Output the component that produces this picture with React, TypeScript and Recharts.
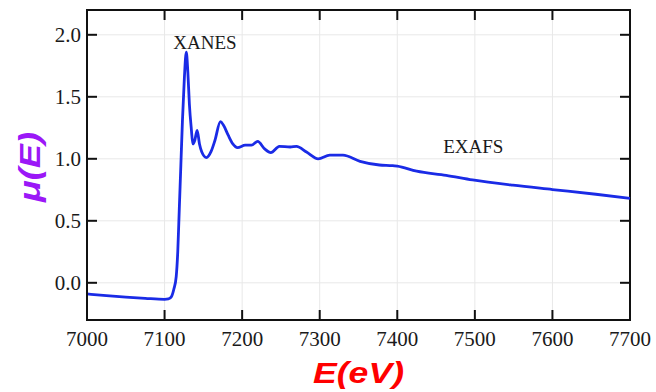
import { CartesianGrid, Line, LineChart, ReferenceArea, ReferenceDot, XAxis, YAxis } from 'recharts';

const energy = [
  7000, 7025, 7050, 7075, 7100, 7105, 7109, 7112, 7115, 7117, 7119, 7121, 7123, 7125.5, 7128,
  7130, 7132, 7134.5, 7136.5, 7139, 7142, 7145, 7148, 7154, 7160, 7165, 7172, 7176, 7182, 7188,
  7194, 7204, 7212, 7220, 7229, 7237, 7248, 7262, 7270, 7283, 7298, 7313, 7330, 7352, 7377,
  7394, 7400, 7425, 7463, 7497, 7549, 7600, 7656, 7700,
];
const mu = [
  -0.09, -0.103, -0.115, -0.125, -0.133, -0.13, -0.11, -0.05, 0.05, 0.25, 0.6, 0.95, 1.3, 1.65, 1.86,
  1.7, 1.44, 1.24, 1.12, 1.15, 1.23, 1.12, 1.055, 1.01, 1.06, 1.15, 1.3, 1.27, 1.19, 1.12,
  1.09, 1.11, 1.11, 1.14, 1.08, 1.05, 1.1, 1.095, 1.1, 1.055, 1.0, 1.03, 1.03, 0.98, 0.95,
  0.945, 0.94, 0.9, 0.867, 0.83, 0.787, 0.752, 0.714, 0.68,
];
const xTicks = [7000, 7100, 7200, 7300, 7400, 7500, 7600, 7700];
const yTicks = [0, 0.5, 1, 1.5, 2];
const xDomain = [7000, 7700];
const yDomain = [-0.3, 2.2];
const annotations = [
  { e: 7152, v: 1.94, text: 'XANES' },
  { e: 7498, v: 1.1, text: 'EXAFS' },
];

const data = energy.map((e, i) => ({ e, mu: mu[i] }));

const W = 656;
const H = 392;
const M = { top: 10, right: 26, left: 27, bottom: 32 };
const X_AXIS_H = 40;
const Y_AXIS_W = 60;
const PLOT_W = W - M.left - M.right - Y_AXIS_W;
const PLOT_H = H - M.top - M.bottom - X_AXIS_H;

const SERIF = 'Liberation Serif';
const SANS = 'Liberation Sans';
const INK = '#111';
const TICK_IN = 10;
const GAP = 8;

// ticks point inwards on all four sides, labels only bottom / left
const bottomTick = ({ x, y, payload }: any) => {
  const axisY = y - GAP;
  const topY = axisY - PLOT_H;
  return (
    <g>
      <line x1={x} x2={x} y1={axisY} y2={axisY - TICK_IN} stroke={INK} strokeWidth={2} />
      <line x1={x} x2={x} y1={topY} y2={topY + TICK_IN} stroke={INK} strokeWidth={2} />
      <text x={x} y={axisY + 26} textAnchor="middle" style={{ fontFamily: SERIF, fontSize: 21 }} fill="#1a1a1a">
        {payload.value}
      </text>
    </g>
  );
};

const leftTick = ({ x, y, payload }: any) => {
  const axisX = x + GAP;
  const rightX = axisX + PLOT_W;
  return (
    <g>
      <line x1={axisX} x2={axisX + TICK_IN} y1={y} y2={y} stroke={INK} strokeWidth={2} />
      <line x1={rightX} x2={rightX - TICK_IN} y1={y} y2={y} stroke={INK} strokeWidth={2} />
      <text x={axisX - 6} y={y + 7} textAnchor="end" style={{ fontFamily: SERIF, fontSize: 21 }} fill="#1a1a1a">
        {Number(payload.value).toFixed(1)}
      </text>
    </g>
  );
};

export default function App() {
  return (
    <div style={{ position: 'absolute', left: 0, top: 0, width: W, height: H, background: '#fff' }}>
      <LineChart width={W} height={H} data={data} margin={M}>
        <CartesianGrid stroke="#e8e8e8" />
        <XAxis
          dataKey="e"
          type="number"
          domain={xDomain}
          ticks={xTicks}
          height={X_AXIS_H}
          tickLine={false}
          tickSize={GAP}
          tickMargin={0}
          axisLine={{ stroke: INK, strokeWidth: 2 }}
          tick={bottomTick}
          label={({ viewBox }: any) => (
            <text
              x={viewBox.x + viewBox.width / 2}
              y={viewBox.y + 63}
              textAnchor="middle"
              style={{ fontFamily: SANS, fontWeight: 'bold', fontStyle: 'italic', fontSize: 30 }}
              textLength={91}
              lengthAdjust="spacingAndGlyphs"
              fill="#ff0000"
            >
              E(eV)
            </text>
          )}
        />
        <YAxis
          type="number"
          domain={yDomain}
          ticks={yTicks}
          allowDataOverflow
          width={Y_AXIS_W}
          tickLine={false}
          tickSize={GAP}
          tickMargin={0}
          axisLine={{ stroke: INK, strokeWidth: 2 }}
          tick={leftTick}
          label={({ viewBox }: any) => {
            const cx = 40;
            const cy = viewBox.y + viewBox.height / 2 + 2;
            return (
              <text
                x={cx}
                y={cy}
                transform={`rotate(-90 ${cx} ${cy})`}
                textAnchor="middle"
                style={{ fontFamily: SANS, fontWeight: 'bold', fontStyle: 'italic', fontSize: 29 }}
                textLength={70}
                lengthAdjust="spacingAndGlyphs"
                fill="#9b18f7"
              >
                μ(E)
              </text>
            );
          }}
        />
        <ReferenceArea
          x1={xDomain[0]}
          x2={xDomain[1]}
          y1={yDomain[0]}
          y2={yDomain[1]}
          fill="none"
          fillOpacity={0}
          stroke={INK}
          strokeWidth={2}
          strokeOpacity={1}
          ifOverflow="visible"
        />
        <Line
          type="monotone"
          dataKey="mu"
          stroke="#1a2be6"
          strokeWidth={2.8}
          dot={false}
          isAnimationActive={false}
        />
        {annotations.map((a) => (
          <ReferenceDot
            key={a.text}
            x={a.e}
            y={a.v}
            r={0}
            fill="none"
            stroke="none"
            ifOverflow="visible"
            label={{ value: a.text, position: 'center', fontFamily: SERIF, fontSize: 19, fill: '#1a1a1a' }}
          />
        ))}
      </LineChart>
    </div>
  );
}
